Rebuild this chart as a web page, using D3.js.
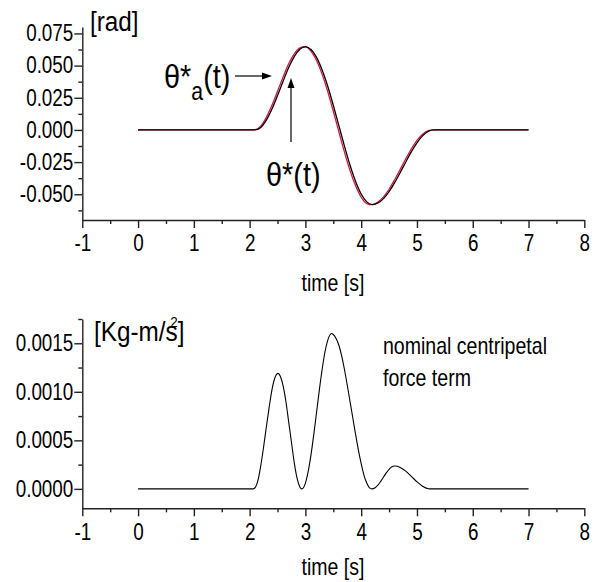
<!DOCTYPE html>
<html><head><meta charset="utf-8">
<script src="https://cdn.jsdelivr.net/npm/d3@7"></script>
<style>
body{margin:0;background:#fff}
svg text{font-family:"Liberation Sans Narrow","Arial Narrow","Liberation Sans",Arial,sans-serif;fill:#000}
</style>
</head><body>
<svg id="c" width="599" height="582"></svg>
<script>
// ---------- data ----------
const xMajor = [-1,0,1,2,3,4,5,6,7,8];
const xTickLabels = ["-1","0","1","2","3","4","5","6","7","8"];
const xMinor = [-0.5,0.5,1.5,2.5,3.5,4.5,5.5,6.5,7.5];

const thetaMajor = [-0.05,-0.025,0,0.025,0.05,0.075];
const thetaTickLabels = ["-0.050","-0.025","0.000","0.025","0.050","0.075"];
const thetaMinor = [-0.0625,-0.0375,-0.0125,0.0125,0.0375,0.0625];

const forceMajor = [0,0.0005,0.001,0.0015];
const forceTickLabels = ["0.0000","0.0005","0.0010","0.0015"];
const forceMinor = [0.00025,0.00075,0.00125,0.00175];

const thetaTime = [0,1,2,2.1,2.2,2.3,2.4,2.5,2.6,2.7,2.8,2.9,3.0,3.1,3.2,3.3,3.4,3.5,3.6,3.7,3.8,3.9,4.0,4.1,4.2,4.3,4.4,4.5,4.6,4.7,4.8,4.9,5.0,5.1,5.2,5.3,6,7];
const thetaStar = [0,0,0,0,0.0019,0.0076,0.0162,0.0267,0.0379,0.0485,0.0570,0.0627,0.0646,0.0625,0.0564,0.0466,0.0340,0.0192,0.0033,-0.0126,-0.0274,-0.0400,-0.0498,-0.0559,-0.0580,-0.0568,-0.0534,-0.0480,-0.0410,-0.0331,-0.0249,-0.0169,-0.0100,-0.0046,-0.0012,0,0,0];
const thetaStarA = [0,0,0,0.0003,0.0030,0.0098,0.0191,0.0300,0.0412,0.0514,0.0592,0.0638,0.0650,0.0612,0.0539,0.0432,0.0298,0.0145,-0.0015,-0.0173,-0.0316,-0.0434,-0.0523,-0.0572,-0.0581,-0.0561,-0.0520,-0.0461,-0.0387,-0.0306,-0.0224,-0.0146,-0.0081,-0.0033,-0.0005,0,0,0];

const forceTime = [0,1,2,2.07,2.15,2.2,2.25,2.3,2.35,2.4,2.45,2.51,2.55,2.6,2.65,2.7,2.75,2.8,2.85,2.9,2.935,2.95,3.0,3.05,3.1,3.15,3.2,3.25,3.3,3.35,3.4,3.47,3.5,3.55,3.6,3.65,3.7,3.75,3.8,3.85,3.9,3.95,4.0,4.05,4.1,4.15,4.19,4.25,4.3,4.35,4.4,4.45,4.5,4.55,4.6,4.7,4.8,4.9,5.0,5.1,5.2,5.24,6,7];
const forceVal = [0,0,0,0,0.00009,0.00024,0.00043,0.00064,0.00084,0.00102,0.00114,0.00119,0.00116,0.00106,0.00090,0.00069,0.00048,0.00027,0.00011,0.00002,0,0.000003,0.00006,0.00018,0.00035,0.00056,0.00079,0.00102,0.00123,0.00141,0.00153,0.0016,0.00159,0.00155,0.00148,0.00137,0.00123,0.00107,0.00090,0.00073,0.00056,0.00040,0.00026,0.00014,0.00006,0.00001,0,0.000012,0.000039,0.000078,0.000122,0.000165,0.000202,0.000227,0.000235,0.000221,0.000183,0.000129,0.000073,0.000027,0.000002,0,0,0];

// ---------- drawing ----------
const svg = d3.select("#c");
const FS = 23, SX = 0.82;
const x = d3.scaleLinear().domain([-1,8]).range([82.3,584.3]);

function cond(sel, sx) {
  sel.each(function(){
    const t = d3.select(this);
    const ax = +t.attr("x") || 0;
    t.attr("transform", `translate(${ax},0) scale(${sx},1) translate(${-ax},0)`);
  });
  return sel;
}

function drawAxes(y, yMajor, yLabels, yMinor, axisY) {
  const g = svg.append("g");
  g.append("g").attr("transform",`translate(0,${axisY})`)
    .call(d3.axisBottom(x).tickValues(xMinor).tickSize(4).tickSizeOuter(0).tickFormat(""))
    .call(s=>s.select(".domain").remove());
  g.append("g").attr("transform",`translate(0,${axisY})`)
    .call(d3.axisBottom(x).tickValues(xMajor).tickSize(8).tickSizeOuter(0).tickPadding(7)
      .tickFormat((d,i)=>xTickLabels[i]))
    .call(s=>cond(s.selectAll("text").attr("font-size",FS), SX));
  g.append("g").attr("transform",`translate(${x(-1)},0)`)
    .call(d3.axisLeft(y).tickValues(yMinor).tickSize(4).tickSizeOuter(0).tickFormat(""))
    .call(s=>s.select(".domain").remove());
  g.append("g").attr("transform",`translate(${x(-1)},0)`)
    .call(d3.axisLeft(y).tickValues(yMajor).tickSize(8).tickSizeOuter(0).tickPadding(1)
      .tickFormat((d,i)=>yLabels[i]))
    .call(s=>cond(s.selectAll("text").attr("font-size",FS), SX));
  g.selectAll(".domain,.tick line").attr("stroke","#222").attr("stroke-width",1.4);
}

// top panel
const yT = d3.scaleLinear().domain([-0.07,0.08]).range([220,27]);
drawAxes(yT, thetaMajor, thetaTickLabels, thetaMinor, 220);
const lineT = (vals)=>d3.line().x((d,i)=>x(thetaTime[i])).y(d=>yT(d)).curve(d3.curveMonotoneX)(vals);
svg.append("path").attr("d",lineT(thetaStarA)).attr("fill","none").attr("stroke","#d8143c").attr("stroke-width",1.3);
svg.append("path").attr("d",lineT(thetaStar)).attr("fill","none").attr("stroke","#000").attr("stroke-width",1.3);

cond(svg.append("text").attr("x",333).attr("y",291).attr("text-anchor","middle").attr("font-size",23).text("time [s]"), 0.85);
cond(svg.append("text").attr("x",90).attr("y",31).attr("font-size",27).text("[rad]"), 0.9);

// θ*a(t) label
const l1 = svg.append("text").attr("x",164).attr("y",88).attr("font-size",34);
l1.append("tspan").text("θ*");
l1.append("tspan").attr("font-size",25).attr("dy",12).text("a");
l1.append("tspan").attr("dy",-12).text("(t)");
cond(l1, 0.85);
svg.append("line").attr("x1",235).attr("y1",76).attr("x2",264).attr("y2",76).attr("stroke","#000").attr("stroke-width",1.2);
svg.append("path").attr("d","M272,76 L262,72.5 L262,79.5 Z").attr("fill","#000");

// θ*(t) label
cond(svg.append("text").attr("x",266).attr("y",186).attr("font-size",34).text("θ*(t)"), 0.85);
svg.append("line").attr("x1",291).attr("y1",142).attr("x2",291).attr("y2",86).attr("stroke","#000").attr("stroke-width",1.2);
svg.append("path").attr("d","M291,78 L287.5,88 L294.5,88 Z").attr("fill","#000");

// bottom panel
const yB = d3.scaleLinear().domain([-0.0002,0.00175]).range([508.3,319]);
drawAxes(yB, forceMajor, forceTickLabels, forceMinor, 508.3);
const lineB = d3.line().x((d,i)=>x(forceTime[i])).y(d=>yB(d)).curve(d3.curveMonotoneX);
svg.append("path").attr("d",lineB(forceVal)).attr("fill","none").attr("stroke","#000").attr("stroke-width",1.1);

cond(svg.append("text").attr("x",333).attr("y",575).attr("text-anchor","middle").attr("font-size",23).text("time [s]"), 0.85);

const US = 0.9;
const unit = svg.append("text").attr("x",94).attr("y",341).attr("font-size",27).text("[Kg-m/s");
const uw = unit.node().getComputedTextLength() * US;
cond(unit, US);
cond(svg.append("text").attr("x",94+uw).attr("y",341).attr("font-size",27).text("]"), US);
cond(svg.append("text").attr("x",94+uw).attr("y",327).attr("text-anchor","end").attr("font-size",15).text("2"), US);

cond(svg.append("text").attr("x",383).attr("y",354).attr("font-size",23).text("nominal centripetal"), 0.85);
cond(svg.append("text").attr("x",383).attr("y",386).attr("font-size",23).text("force term"), 0.85);
</script>
</body></html>
